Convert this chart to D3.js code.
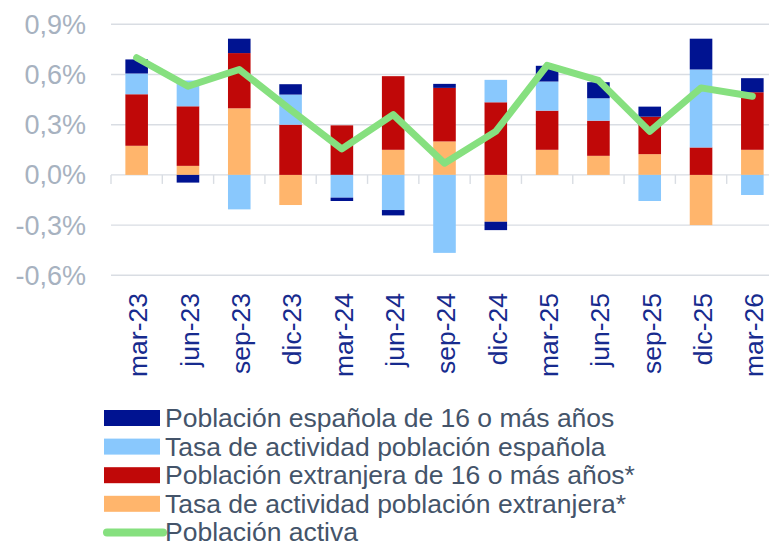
<!DOCTYPE html>
<html>
<head>
<meta charset="utf-8">
<script src="https://cdn.jsdelivr.net/npm/d3@7"></script>
<style>
  body { margin: 0; background: #fff; }
  text { font-family: "Liberation Sans", Arial, sans-serif; }
</style>
</head>
<body>
<div id="viz"></div>
<script>
// quarters on the x axis
var periods = ["mar-23","jun-23","sep-23","dic-23","mar-24","jun-24","sep-24","dic-24","mar-25","jun-25","sep-25","dic-25","mar-26"];

// contributions, percentage points
var tasaExt   = [0.174, 0.054, 0.398, -0.18, 0, 0.15, 0.20, -0.28, 0.15, 0.114, 0.124, -0.30, 0.15];
var pobExt    = [0.308, 0.356, 0.33, 0.30, 0.296, 0.44, 0.32, 0.434, 0.234, 0.21, 0.224, 0.164, 0.344];
var tasaEsp   = [0.124, 0.154, -0.206, 0.18, -0.136, -0.21, -0.466, 0.134, 0.174, 0.134, -0.156, 0.466, -0.12];
var pobEsp    = [0.084, -0.046, 0.086, 0.062, -0.02, -0.032, 0.024, -0.05, 0.094, 0.096, 0.06, 0.184, 0.084];
var activa    = [0.70, 0.53, 0.63, 0.39, 0.155, 0.36, 0.07, 0.26, 0.655, 0.565, 0.26, 0.52, 0.47];

var yTicks = [-0.6, -0.3, 0, 0.3, 0.6, 0.9];

var keys = ["tasaExt", "pobExt", "tasaEsp", "pobEsp"];
var colors = {pobEsp: "#001391", tasaEsp: "#89c8fd", pobExt: "#c00808", tasaExt: "#ffb56c"};
var legendItems = [
  {key: "pobEsp", label: "Población española de 16 o más años"},
  {key: "tasaEsp", label: "Tasa de actividad población española"},
  {key: "pobExt", label: "Población extranjera de 16 o más años*"},
  {key: "tasaExt", label: "Tasa de actividad población extranjera*"},
  {key: "line", label: "Población activa"}
];

var data = periods.map(function(p, i){
  return {period: p, tasaExt: tasaExt[i], pobExt: pobExt[i], tasaEsp: tasaEsp[i], pobEsp: pobEsp[i], activa: activa[i]};
});

var width = 769, height = 544;

var svg = d3.select("#viz").append("svg")
  .attr("width", width)
  .attr("height", height);

var x = d3.scaleBand()
  .domain(periods)
  .range([111, 778])
  .paddingInner(0.56)
  .paddingOuter(0.28);

var y = d3.scaleLinear()
  .domain([-0.6, 0.9])
  .range([275.3, 24.3]);

var fmt = function(v){ return d3.format(".1f")(v).replace(".", ",").replace("−", "-") + "%"; };

// gridlines
svg.append("g").selectAll("line")
  .data(yTicks)
  .enter().append("line")
  .attr("x1", 111).attr("x2", width)
  .attr("y1", function(d){ return y(d); })
  .attr("y2", function(d){ return y(d); })
  .attr("stroke", "#d9dde3")
  .attr("stroke-width", 1.4);

// y labels
svg.append("g").selectAll("text")
  .data(yTicks)
  .enter().append("text")
  .attr("x", 86)
  .attr("y", function(d){ return y(d); })
  .attr("dy", "0.35em")
  .attr("text-anchor", "end")
  .attr("fill", "#a7b2c0")
  .style("font-size", "27px")
  .text(fmt);

// tick marks on the zero line at band edges
var step = x.step();
var edge0 = x(periods[0]) - (step - x.bandwidth()) / 2;
svg.append("g").selectAll("line")
  .data(d3.range(periods.length + 1))
  .enter().append("line")
  .attr("x1", function(k){ return edge0 + k * step; })
  .attr("x2", function(k){ return edge0 + k * step; })
  .attr("y1", y(0)).attr("y2", y(0) + 9)
  .attr("stroke", "#d9dde3")
  .attr("stroke-width", 1.4);

// stacked bars
var series = d3.stack()
  .keys(keys)
  .offset(d3.stackOffsetDiverging)(data);

svg.append("g").selectAll("g")
  .data(series)
  .enter().append("g")
  .attr("fill", function(s){ return colors[s.key]; })
  .selectAll("rect")
  .data(function(s){ return s; })
  .enter().append("rect")
  .attr("x", function(d){ return x(d.data.period); })
  .attr("width", x.bandwidth())
  .attr("y", function(d){ return y(Math.max(d[0], d[1])); })
  .attr("height", function(d){ return Math.abs(y(d[0]) - y(d[1])); });

// line
var line = d3.line()
  .x(function(d){ return x(d.period) + x.bandwidth() / 2; })
  .y(function(d){ return y(d.activa); });

svg.append("path")
  .datum(data)
  .attr("d", line)
  .attr("fill", "none")
  .attr("stroke", "#86e07f")
  .attr("stroke-width", 7)
  .attr("stroke-linecap", "round")
  .attr("stroke-linejoin", "round");

// x labels, rotated
svg.append("g").selectAll("text")
  .data(periods)
  .enter().append("text")
  .attr("transform", function(d){ return "translate(" + (x(d) + x.bandwidth() / 2 + 1.5) + ",293) rotate(-90)"; })
  .attr("dy", "0.35em")
  .attr("text-anchor", "end")
  .attr("fill", "#172b8e")
  .style("font-size", "26.5px")
  .text(function(d){ return d; });

// legend
var legend = svg.append("g").selectAll("g")
  .data(legendItems)
  .enter().append("g")
  .attr("transform", function(d, i){ return "translate(104," + (418 + i * 28.6) + ")"; });

legend.filter(function(d){ return d.key !== "line"; })
  .append("rect")
  .attr("x", 0).attr("y", -8)
  .attr("width", 56).attr("height", 16)
  .attr("fill", function(d){ return colors[d.key]; });

legend.filter(function(d){ return d.key === "line"; })
  .append("line")
  .attr("x1", 3).attr("x2", 59)
  .attr("stroke", "#86e07f")
  .attr("stroke-width", 8)
  .attr("stroke-linecap", "round");

legend.append("text")
  .attr("x", 61)
  .attr("dy", "0.34em")
  .attr("fill", "#44546a")
  .style("font-size", "26.5px")
  .text(function(d){ return d.label; });
</script>
</body>
</html>
